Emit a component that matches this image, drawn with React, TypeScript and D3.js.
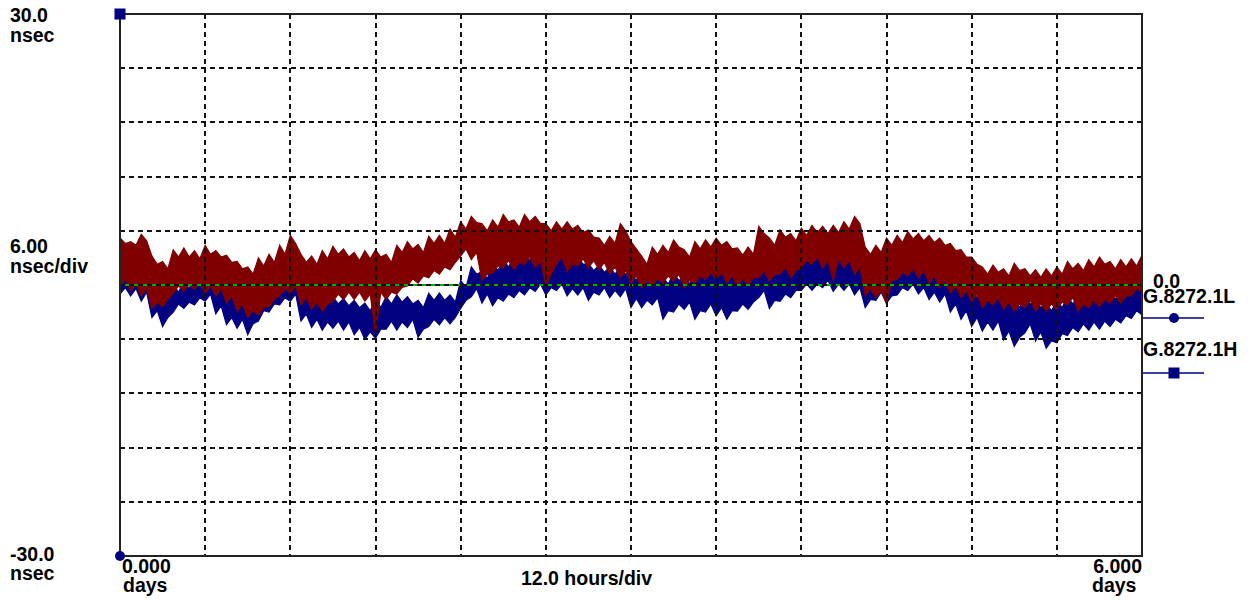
import React from 'react';
import * as d3 from 'd3';

const W = 1251;
const H = 601;

// time axis: 0 .. 6 days, 12 hours/div ; value axis -30 .. 30 nsec, 6 nsec/div
const X_DOMAIN = [0, 6];
const Y_DOMAIN = [-30, 30];
const STEP_DAYS = 0.0625; // 1.5 h per sample bin

// dense core (typical max / min per 1.5 h bin), nsec
const redHi = [
  4.6, 4.4, 4.9, 2.3, 1.8, 3.1, 3.1, 2.9, 3.4, 3.1,
  2.5, 1.8, 1.2, 2.1, 2.5, 3.4, 4.6, 2.5, 2.3, 2.9,
  3.4, 3.1, 2.7, 2.9, 3.1, 2.5, 3.6, 4.0, 3.6, 4.6,
  4.6, 5.3, 6.2, 6.9, 6.0, 6.4, 7.0, 6.4, 7.0, 6.8,
  6.0, 6.2, 6.2, 5.8, 5.3, 4.4, 4.6, 6.0, 4.0, 2.3,
  3.4, 3.6, 4.2, 3.1, 4.0, 4.2, 4.4, 4.0, 3.3, 3.4,
  5.7, 4.4, 5.3, 4.9, 5.5, 5.8, 5.7, 5.8, 6.2, 6.8,
  3.4, 3.6, 4.4, 4.7, 5.1, 4.9, 4.7, 4.4, 3.8, 3.1,
  2.3, 1.2, 1.4, 1.0, 1.6, 1.0, 0.85, 1.0, 1.2, 1.8,
  1.6, 2.0, 2.3, 1.8, 2.0, 2.1, 2.5,
];
const redLo = [
  0.7, 0.1, -0.4, -1.9, -1.6, -0.1, 0.1, 0.3, -0.1, -0.4,
  -1.2, -2.1, -2.85, -2.5, -1.6, -0.4, -0.1, -1.4, -1.9, -2.1,
  -1.0, -0.8, -0.8, -1.0, -0.8, -0.8, -0.26, 0.7, 1.0, 1.6,
  2.0, 2.5, 4.0, 3.6, 1.2, 2.1, 2.7, 2.5, 3.1, 2.7,
  1.2, 3.1, 2.3, 2.9, 2.7, 2.5, 2.0, 1.6, 1.0, 0.5,
  0.7, 1.0, 1.2, 0.5, 1.0, 1.4, 1.4, 1.0, 0.7, 0.85,
  1.6, 1.2, 2.0, 1.6, 2.7, 3.1, 2.7, 2.9, 2.7, 2.0,
  -0.4, -0.6, 0.5, 1.4, 1.8, 1.6, 1.0, 0.5, -0.1, -0.6,
  -1.0, -1.7, -1.4, -1.9, -2.1, -1.7, -2.1, -2.1, -1.9, -1.4,
  -2.1, -1.7, -1.6, -1.2, -1.2, -0.4, 0.1,
];
const blueHi = [
  4.2, 3.8, 3.4, 0.1, -1.0, -0.8, -0.4, 0.1, 0.5, 0.1,
  -0.6, -1.7, -1.7, -1.4, -0.6, 0.1, 0.85, -1.0, -1.6, -2.1,
  -2.1, -2.3, -2.5, -2.85, -2.5, -2.1, -1.9, -2.1, -2.5, -1.7,
  -1.7, -1.9, -0.3, 1.2, 0.7, 1.6, 2.0, 2.3, 2.7, 2.7,
  2.5, 3.1, 2.7, 2.3, 1.6, 1.4, 1.2, 1.2, 0.5, 1.0,
  1.2, 0.1, 0.5, 0.1, 0.85, 1.2, 1.6, 1.6, 0.5, 0.7,
  1.6, 1.2, 2.0, 2.3, 2.7, 3.4, 3.1, 3.1, 3.4, 2.5,
  1.2, 1.6, 2.0, 2.3, 2.7, 3.1, 1.6, 1.2, 0.1, -0.6,
  -1.4, -1.7, -1.7, -2.1, -2.5, -2.1, -2.5, -2.85, -2.5, -2.1,
  -2.1, -1.9, -1.7, -1.6, -1.2, -0.6, -0.3,
];
const blueLo = [
  -0.3, -0.4, -0.8, -2.85, -3.6, -2.1, -1.9, -1.4, -1.0, -2.3,
  -3.6, -3.8, -4.3, -2.85, -2.1, -1.4, -1.0, -3.2, -3.8, -4.1,
  -4.0, -4.1, -4.7, -5.2, -4.9, -4.0, -4.1, -3.8, -4.9, -3.8,
  -3.6, -3.6, -1.7, -0.4, -1.0, -1.4, -1.0, -0.6, -0.3, 0.1,
  -0.3, 0.1, -0.4, -0.3, -0.8, -0.3, -0.6, -0.4, -1.5, -1.7,
  -1.4, -2.85, -2.1, -1.9, -2.85, -2.1, -2.5, -2.85, -2.1, -1.9,
  -0.6, -1.7, -1.0, -0.6, 0.1, 0.1, 0.5, 0.1, 0.1, -0.3,
  -1.6, -0.8, -1.2, -0.3, 0.1, -0.3, -0.8, -1.0, -2.1, -2.85,
  -3.6, -4.1, -4.0, -5.1, -5.8, -4.3, -5.2, -6.2, -5.4, -4.7,
  -4.3, -4.1, -4.0, -3.8, -3.4, -2.85, -2.5,
];

// spike tips (extreme excursions per bin), nsec
const redPeakHi = [
  5.2, 4.8, 5.6, 3.2, 2.6, 3.9, 4.1, 3.8, 4.4, 3.8,
  3.3, 2.6, 2.0, 3.0, 3.4, 4.4, 5.5, 3.4, 3.2, 3.8,
  4.3, 4.0, 3.6, 3.8, 3.9, 3.4, 4.4, 4.8, 4.5, 5.4,
  5.5, 6.2, 7.0, 7.6, 6.8, 7.2, 7.8, 7.2, 7.8, 7.6,
  6.8, 7.0, 7.0, 6.6, 6.1, 5.2, 5.4, 6.8, 4.8, 3.2,
  4.2, 4.4, 5.0, 3.9, 4.8, 5.0, 5.2, 4.8, 4.1, 4.2,
  6.5, 5.2, 6.1, 5.7, 6.3, 6.6, 6.5, 6.6, 7.0, 7.6,
  4.2, 4.4, 5.2, 5.5, 5.9, 5.7, 5.5, 5.2, 4.6, 3.9,
  3.1, 2.0, 2.2, 1.8, 2.4, 1.8, 1.7, 1.8, 2.0, 2.6,
  2.4, 2.8, 3.1, 2.6, 2.8, 2.9, 3.3,
];
const redPeakLo = [
  -0.2, -0.6, -1.2, -2.6, -2.4, -0.9, -0.7, -0.5, -0.9, -1.2,
  -2.0, -2.9, -3.6, -3.3, -2.4, -1.2, -0.9, -2.2, -2.7, -2.9,
  -1.8, -1.6, -1.6, -1.8, -5.4, -1.6, -1.0, -0.1, 0.2, 0.8,
  1.2, 1.7, 3.2, 2.8, 0.5, 1.3, 1.9, 1.7, 2.3, 1.9,
  -0.1, 2.3, 1.5, 2.1, 1.9, 1.7, 1.2, 0.8, 0.2, -0.3,
  -0.1, 0.2, 0.4, -0.3, 0.2, 0.6, 0.6, 0.2, -0.1, 0.0,
  0.8, 0.4, 1.2, 0.8, 1.9, 2.3, 1.9, 0.5, 1.9, 1.2,
  -1.2, -1.4, -2.1, 0.6, 1.0, 0.8, 0.2, -0.3, -0.9, -1.4,
  -1.8, -2.5, -2.2, -2.7, -2.9, -2.5, -2.9, -2.9, -2.7, -2.2,
  -2.9, -2.5, -2.4, -2.0, -2.0, -1.2, -0.7,
];
const bluePeakHi = [
  5.0, 4.6, 4.2, 0.9, -0.2, 0.0, 0.4, 0.9, 1.3, 0.9,
  0.2, -0.9, -0.9, -0.6, 0.2, 0.9, 1.7, -0.2, -0.8, -1.3,
  -1.3, -1.5, -1.7, -2.0, -1.7, -1.3, -1.1, -1.3, -1.7, -0.9,
  -0.9, -1.1, 0.5, 2.0, 1.5, 2.4, 2.8, 3.1, 3.5, 3.5,
  3.3, 3.9, 3.5, 3.1, 2.4, 2.2, 2.0, 2.0, 1.3, 1.8,
  2.0, 0.9, 1.3, 0.9, 1.7, 2.0, 2.4, 2.4, 1.3, 1.5,
  2.4, 2.0, 2.8, 3.1, 3.5, 4.2, 3.9, 3.9, 4.2, 3.3,
  2.0, 2.4, 2.8, 3.1, 3.5, 4.0, 2.4, 2.0, 0.9, 0.2,
  -0.6, -0.9, -0.9, -1.3, -1.7, -1.3, -1.7, -2.0, -1.7, -1.3,
  -1.3, -1.1, -0.9, -0.8, -0.4, 0.2, 0.5,
];
const bluePeakLo = [
  -1.0, -1.2, -1.8, -3.6, -4.6, -3.0, -2.6, -2.2, -1.8, -3.2,
  -4.4, -4.8, -5.5, -4.0, -3.0, -2.2, -1.8, -4.0, -4.7, -5.0,
  -4.8, -5.0, -5.5, -6.0, -5.9, -4.9, -5.0, -4.7, -5.8, -4.6,
  -4.4, -4.3, -2.6, -1.3, -2.0, -2.3, -1.8, -1.4, -1.1, -0.7,
  -1.1, -0.6, -1.2, -1.1, -1.7, -1.1, -1.4, -1.3, -2.5, -2.5,
  -2.2, -3.8, -3.0, -2.7, -3.8, -3.0, -3.4, -3.8, -2.9, -2.7,
  -1.4, -2.6, -1.8, -1.4, -0.6, -0.6, -0.3, -0.7, -0.6, -1.1,
  -2.5, -1.7, -2.0, -1.1, -0.6, -1.0, -1.6, -1.9, -3.0, -3.8,
  -4.6, -5.1, -5.0, -6.1, -6.8, -5.3, -6.2, -7.0, -6.4, -5.6,
  -5.2, -5.0, -4.9, -4.6, -4.2, -3.7, -3.3,
];

const legendNames = ['G.8272.1L', 'G.8272.1H'];

const RED = '#800000';
const BLUE = '#000080';
const FONT = "'Liberation Sans', Arial, sans-serif";

type Pt = { t: number; hi: number; lo: number };

export default function App() {
  const x = d3.scaleLinear().domain(X_DOMAIN).range([120, 1142]);
  const y = d3.scaleLinear().domain(Y_DOMAIN).range([556, 14]);

  // noisy band: spike tips at the start of each bin, dense core at mid-bin
  const noisyBand = (pHi: number[], pLo: number[], cHi: number[], cLo: number[]) => {
    const pts: Pt[] = [];
    pHi.forEach((h, i) => {
      pts.push({ t: i * STEP_DAYS, hi: h, lo: pLo[i] });
      if (i < pHi.length - 1) pts.push({ t: i * STEP_DAYS + STEP_DAYS / 2, hi: cHi[i], lo: cLo[i] });
    });
    return (
      d3
        .area<Pt>()
        .x((d) => x(d.t))
        .y0((d) => y(d.lo))
        .y1((d) => y(d.hi))(pts) || ''
    );
  };

  const vGrid = d3.range(1, 12).map((i) => i * 0.5);
  const hGrid = d3.range(-24, 30, 6);

  const textStyle: React.CSSProperties = {
    fontFamily: FONT,
    fontWeight: 'bold',
    fontSize: 19.5,
    fill: '#000',
  };

  const X0 = x(0);
  const X1 = x(6);
  const YT = y(30);
  const YB = y(-30);

  return (
    <svg
      width={W}
      height={H}
      style={{ position: 'absolute', left: 0, top: 0, background: '#fff' }}
    >
      {/* data: blue trace below, red trace on top */}
      <path
        d={noisyBand(bluePeakHi, bluePeakLo, blueHi, blueLo)}
        fill={BLUE}
        stroke={BLUE}
        strokeWidth={1.2}
        strokeLinejoin="miter"
      />
      <path
        d={noisyBand(redPeakHi, redPeakLo, redHi, redLo)}
        fill={RED}
        stroke={RED}
        strokeWidth={1.2}
        strokeLinejoin="miter"
      />

      {/* zero line (green) */}
      <line x1={X0} x2={X1} y1={Math.round(y(0))} y2={Math.round(y(0))} stroke="#00b000" strokeWidth={2} />

      {/* grid */}
      {vGrid.map((t) => (
        <line
          key={'v' + t}
          x1={Math.round(x(t))}
          x2={Math.round(x(t))}
          y1={YT}
          y2={YB}
          stroke="#111"
          strokeWidth={2}
          strokeDasharray="5,4"
        />
      ))}
      {hGrid.map((v) => (
        <line
          key={'h' + v}
          x1={X0}
          x2={X1}
          y1={Math.round(y(v))}
          y2={Math.round(y(v))}
          stroke="#111"
          strokeWidth={2}
          strokeDasharray="5,4"
        />
      ))}

      {/* frame */}
      <rect x={X0} y={YT} width={X1 - X0} height={YB - YT} fill="none" stroke="#222" strokeWidth={2} />

      {/* mask markers on the left */}
      <rect x={X0 - 5.5} y={YT - 5.5} width={11} height={11} fill={BLUE} />
      <circle cx={X0} cy={YB} r={5} fill={BLUE} />

      {/* y labels */}
      <text x={10} y={22} style={textStyle}>30.0</text>
      <text x={10} y={42} style={textStyle}>nsec</text>
      <text x={10} y={253} style={textStyle}>6.00</text>
      <text x={10} y={273} style={textStyle}>nsec/div</text>
      <text x={10} y={561} style={textStyle}>-30.0</text>
      <text x={10} y={580} style={textStyle}>nsec</text>

      {/* x labels */}
      <text x={122} y={573} style={textStyle}>0.000</text>
      <text x={123} y={592} style={textStyle}>days</text>
      <text x={1142} y={573} style={textStyle} textAnchor="end">6.000</text>
      <text x={1092} y={592} style={textStyle}>days</text>
      <text x={521} y={585} style={textStyle}>12.0 hours/div</text>

      {/* legend */}
      <text x={1153} y={288} style={textStyle}>0.0</text>
      <text x={1143} y={303} style={textStyle}>{legendNames[0]}</text>
      <line x1={1143} x2={1204} y1={318} y2={318} stroke={BLUE} strokeWidth={1.5} />
      <circle cx={1174} cy={318} r={5} fill={BLUE} />
      <text x={1143} y={356} style={textStyle}>{legendNames[1]}</text>
      <line x1={1143} x2={1204} y1={373} y2={373} stroke={BLUE} strokeWidth={1.5} />
      <rect x={1168.5} y={367.5} width={11} height={11} fill={BLUE} />
    </svg>
  );
}
